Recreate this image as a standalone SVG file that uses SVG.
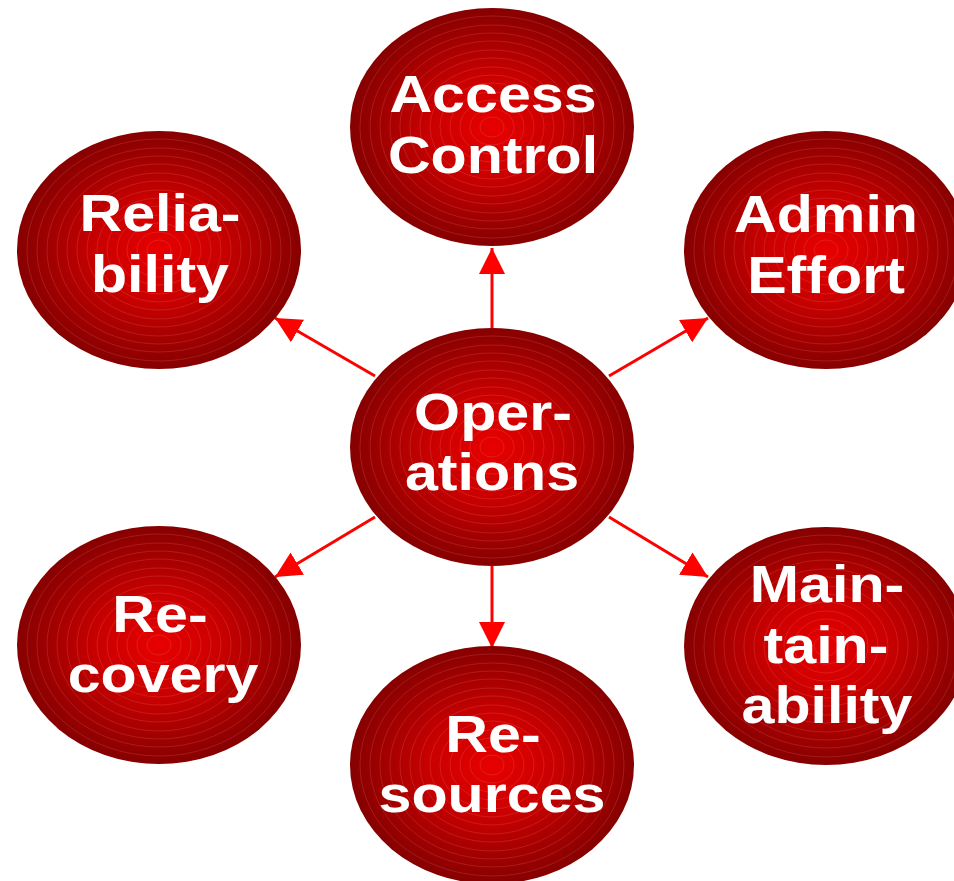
<svg xmlns="http://www.w3.org/2000/svg" xmlns:xlink="http://www.w3.org/1999/xlink" width="954" height="881" viewBox="0 0 954 881">
<style>
.lbl{font-family:"Liberation Sans",Arial,sans-serif;font-weight:bold;font-size:51px;fill:#ffffff;text-anchor:middle}
.ring{fill:none;stroke:#ff9a9a;stroke-opacity:0.22;stroke-width:0.8}
.conn{stroke:#ff0000;stroke-width:3;fill:none}
</style>
<defs>
<radialGradient id="g" cx="0.5" cy="0.5" r="0.5">
<stop offset="0" stop-color="#e80000"/>
<stop offset="0.45" stop-color="#c80000"/>
<stop offset="1" stop-color="#860000"/>
</radialGradient>
<g id="blob">
<ellipse cx="0" cy="0" rx="142" ry="119" fill="url(#g)"/>
<ellipse class="ring" rx="132" ry="111"/>
<ellipse class="ring" rx="122" ry="102"/>
<ellipse class="ring" rx="112" ry="94"/>
<ellipse class="ring" rx="102" ry="86"/>
<ellipse class="ring" rx="92" ry="77"/>
<ellipse class="ring" rx="82" ry="69"/>
<ellipse class="ring" rx="72" ry="60"/>
<ellipse class="ring" rx="62" ry="52"/>
<ellipse class="ring" rx="52" ry="44"/>
<ellipse class="ring" rx="42" ry="35"/>
<ellipse class="ring" rx="32" ry="27"/>
<ellipse class="ring" rx="22" ry="18"/>
<ellipse class="ring" rx="12" ry="10"/>
</g>
<marker id="ah" markerUnits="userSpaceOnUse" markerWidth="28" markerHeight="28" refX="26" refY="13" orient="auto">
<path d="M0,0 L26,13 L0,26 Z" fill="#ff0000"/>
</marker>
</defs>
<rect width="954" height="881" fill="#ffffff"/>
<g id="connectors">
<line class="conn" x1="492" y1="328" x2="492" y2="248" marker-end="url(#ah)"/>
<line class="conn" x1="492" y1="566" x2="492" y2="648" marker-end="url(#ah)"/>
<line class="conn" x1="609" y1="376" x2="708" y2="318" marker-end="url(#ah)"/>
<line class="conn" x1="375" y1="376" x2="275" y2="318" marker-end="url(#ah)"/>
<line class="conn" x1="375" y1="517" x2="275" y2="577" marker-end="url(#ah)"/>
<line class="conn" x1="609" y1="517" x2="708" y2="577" marker-end="url(#ah)" stroke-width="2"/>
</g>
<g id="access-control">
<use xlink:href="#blob" x="492" y="127"/>
<text class="lbl" transform="translate(493,112) scale(1.16,1)">Access</text>
<text class="lbl" transform="translate(493,173) scale(1.16,1)">Control</text>
</g>
<g id="reliability">
<use xlink:href="#blob" x="159" y="250"/>
<text class="lbl" transform="translate(160,231) scale(1.16,1)">Relia-</text>
<text class="lbl" transform="translate(160,292) scale(1.16,1)">bility</text>
</g>
<g id="admin-effort">
<use xlink:href="#blob" x="826" y="250"/>
<text class="lbl" transform="translate(826,232) scale(1.16,1)">Admin</text>
<text class="lbl" transform="translate(826,293) scale(1.16,1)">Effort</text>
</g>
<g id="operations">
<use xlink:href="#blob" x="492" y="447"/>
<text class="lbl" transform="translate(493,430) scale(1.16,1)">Oper-</text>
<text class="lbl" transform="translate(492,490) scale(1.16,1)">ations</text>
</g>
<g id="recovery">
<use xlink:href="#blob" x="159" y="645"/>
<text class="lbl" transform="translate(160,632) scale(1.16,1)">Re-</text>
<text class="lbl" transform="translate(163,692) scale(1.16,1)">covery</text>
</g>
<g id="maintainability">
<use xlink:href="#blob" x="826" y="646"/>
<text class="lbl" transform="translate(827,602) scale(1.16,1)">Main-</text>
<text class="lbl" transform="translate(826,663) scale(1.16,1)">tain-</text>
<text class="lbl" transform="translate(827,723) scale(1.16,1)">ability</text>
</g>
<g id="resources">
<use xlink:href="#blob" x="492" y="765"/>
<text class="lbl" transform="translate(493,752) scale(1.16,1)">Re-</text>
<text class="lbl" transform="translate(492,812) scale(1.16,1)">sources</text>
</g>
</svg>
